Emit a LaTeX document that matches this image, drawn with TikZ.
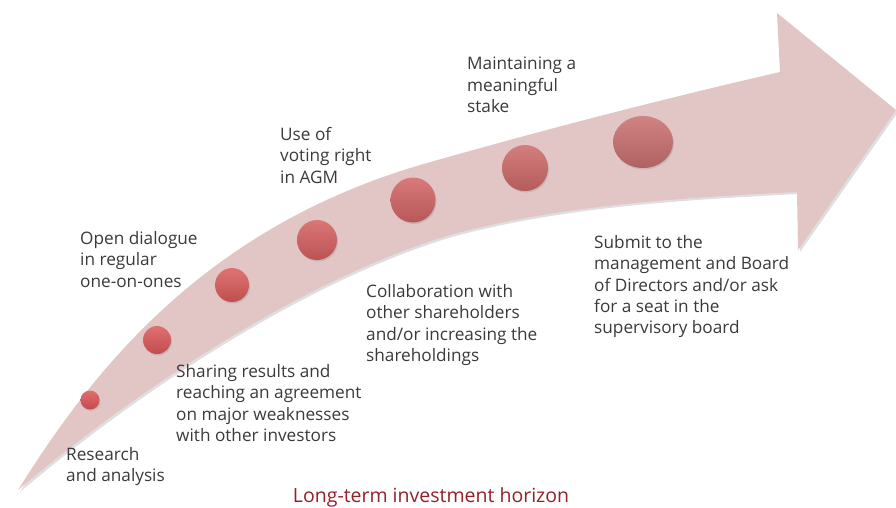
\documentclass[tikz,border=0pt]{standalone}
\usepackage{fontspec}
\setmainfont{Open Sans}
\usetikzlibrary{shadows}
\usetikzlibrary{positioning}
\usetikzlibrary{shapes.geometric}
\definecolor{arrowpink}{RGB}{226,198,198}
\definecolor{dotred}{RGB}{222,84,84}
\definecolor{dotdull}{RGB}{196,114,114}
\definecolor{textgray}{RGB}{58,58,58}
\definecolor{horizonred}{RGB}{150,32,40}
\tikzstyle{dot}=[ellipse,inner sep=0pt,drop shadow={shadow xshift=1pt,shadow yshift=-1.5pt,opacity=0.25}]
\tikzstyle{stage}=[anchor=north west,align=left,inner sep=0pt,font=\fontsize{17.2}{21.4}\selectfont,text=textgray]
\tikzstyle{horizon}=[anchor=base,inner sep=0pt,font=\fontsize{19.5}{22}\selectfont,text=horizonred]
\begin{document}
\begin{tikzpicture}[x=1pt,y=-1pt]
    \useasboundingbox (0,0) rectangle (896,507);

    % Draw the bent arrow
    \path[fill=arrowpink, drop shadow={shadow xshift=2pt,shadow yshift=-2pt,opacity=0.25}]
        (18,490) .. controls (90,375) and (200,230) .. (420,165)
        .. controls (560,125) and (680,95) .. (780,72)
        -- (777,13) -- (896,110) -- (798,250) -- (797,192)
        .. controls (680,198) and (560,205) .. (450,235)
        .. controls (300,280) and (130,395) .. (18,490) -- cycle;

    % Then the dots along it
    \foreach \pos/\name/\w/\h/\mix in {{(90,400)/D1/19/19/100}, {(157,340)/D2/28/28/90}, {(232,285)/D3/34/34/80}, {(317,240)/D4/40/40/65}, {(413,200)/D5/45/45/50}, {(525,168)/D6/46/46/35}, {(643,142)/D7/60/52/15}}
        \node[dot, minimum width=\w pt, minimum height=\h pt, top color=dotred!\mix!dotdull!85!white, bottom color=dotred!\mix!dotdull!88!black] (\name) at \pos {};

    % Labels of the stages
    \foreach \pos/\name/\label in {{(66,447)/research/{Research\\and analysis}}, {(176,364)/sharing/{Sharing results and\\reaching an agreement\\on major weaknesses\\with other investors}}, {(80,231)/dialogue/{Open dialogue\\in regular\\one-on-ones}}, {(280,127)/voting/{Use of\\voting right\\in AGM}}, {(366,284)/collab/{Collaboration with\\other shareholders\\and/or increasing the\\shareholdings}}, {(467,57)/stake/{Maintaining a\\meaningful\\stake}}, {(594,235)/submit/{Submit to the\\management and Board\\of Directors and/or ask\\for a seat in the\\supervisory board}}}
        \node[stage] (\name) at \pos {\label};

\node[horizon] (horizon) at (431,502) {Long-term investment horizon};

\end{tikzpicture}
\end{document}
